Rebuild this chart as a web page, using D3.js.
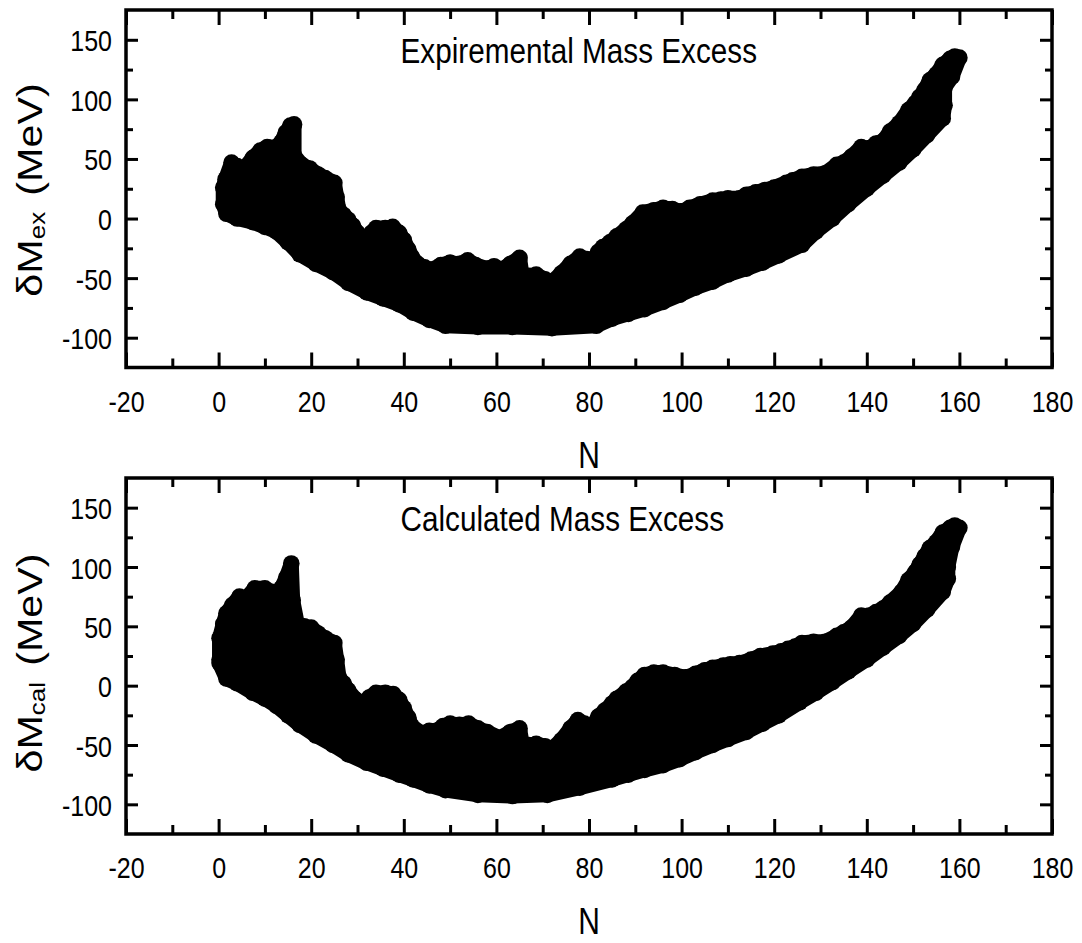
<!DOCTYPE html>
<html>
<head>
<meta charset="utf-8">
<script src="https://cdn.jsdelivr.net/npm/d3@7"></script>
<style>
  body { margin: 0; background: #fff; }
  text { font-family: "Liberation Sans", Arial, sans-serif; fill: #000; }
</style>
</head>
<body>
<div id="chart"></div>
<script>
// tick values
const xMajor = [-20, 0, 20, 40, 60, 80, 100, 120, 140, 160, 180];
const xMinor = [-10, 10, 30, 50, 70, 90, 110, 130, 150, 170];
const yMajor = [-100, -50, 0, 50, 100, 150];
const yMinor = [-75, -25, 25, 75, 125];

// experimental: upper / lower edge of the point cloud (N, MeV)
const expUpperN = [1, 1.5, 2.8, 4, 5.5, 7.4, 9, 10.5, 12.5, 13.5, 14.5, 15.5, 16.3, 16.3, 18, 19.7, 21.5, 23, 25, 25.5, 26, 27, 28, 29, 30, 31.6, 33, 34, 36, 37.6, 39, 40, 41, 41.7, 43, 44.5, 46, 48, 50, 52, 53.8, 55.5, 58, 59.5, 61, 63, 65, 65.7, 67, 68.6, 70.5, 72, 74, 76, 78, 79.5, 80.8, 82, 83, 84.5, 86, 88, 89.4, 91.6, 94, 96, 98, 100, 101.7, 104, 106.7, 108.5, 110, 112.5, 114, 116, 118, 120, 122.6, 124, 126, 128.5, 131, 133.5, 135, 136.7, 138.8, 140.5, 142, 143.5, 145, 147, 149, 150.5, 151.4, 152.5, 153.6, 155, 156.4, 158, 159, 160];
const expUpperV = [26, 33, 47, 44, 42, 51, 57, 60, 60, 64, 72, 78, 79, 53, 45, 42, 37, 34, 30, 18, 7, 3, -1, -6, -12, -19, -12, -8, -8, -7, -12, -18, -26, -32, -38, -41, -43, -39, -37, -38, -35, -39, -42, -40, -43, -38, -33, -52, -48, -47, -51, -53, -46, -38, -32, -34, -35, -28, -24, -20, -15, -9, -4, 5, 7, 9, 8, 6, 9, 12, 15, 16, 17, 17, 20, 22, 24, 26, 30, 32, 35, 37, 38, 45, 47, 52, 60, 59, 63, 65, 73, 80, 91, 97, 102, 108, 116, 121, 129, 134, 136, 135];
const expLowerN = [1, 1.7, 4, 7.4, 10, 12.5, 15, 17.5, 21, 24.7, 28, 32, 35.5, 39, 42, 45.5, 49, 56, 63.5, 72, 81.6, 85, 88.5, 92, 96, 99.6, 103, 106.7, 110, 114, 117.5, 121, 126, 129, 132.6, 136, 140, 143.5, 147, 150, 153, 156.4, 156.8, 156.8, 158.4];
const expLowerV = [12, 4, 0, -3, -7, -11, -20, -30, -38, -45, -54, -62, -67, -72, -79, -85, -90, -91, -91, -92, -90, -84, -80, -76, -70, -64, -58, -53, -47, -42, -37, -31, -22, -11, 0, 12, 25, 36, 47, 58, 70, 84, 95, 110, 119];

// calculated
const calUpperN = [0.2, 0.2, 1, 1.7, 3, 4.5, 6, 7.8, 10, 11.5, 12.5, 13.5, 14.6, 15.7, 16, 17, 18.5, 20, 21.5, 23, 25, 25.5, 26, 27, 28, 29.7, 31, 32.5, 34, 36, 37.7, 39, 40, 41, 41.7, 43.8, 45.5, 47, 48.5, 50, 52, 54, 56, 58, 60.7, 63, 65, 65.7, 67, 68.6, 70.5, 72, 74, 76, 77.6, 79, 80.8, 82, 83.4, 85, 86, 88, 89.4, 90.5, 92, 94, 96, 98.5, 101, 103, 105, 106.7, 109, 110.5, 112.5, 115, 117, 119.7, 121.5, 123, 124.5, 126, 128.5, 131, 133.5, 135, 136.7, 138.8, 140.5, 142, 143.5, 145, 147.5, 149, 150.5, 151.4, 152.5, 153.6, 155, 156.4, 158, 159, 160];
const calUpperV = [22, 40, 52, 61, 68, 75, 74, 82, 82, 79, 78, 82, 91, 103, 72, 52, 50, 49, 44, 40, 36, 22, 7, 2, -4, -12, -16, -10, -6, -6, -7, -12, -19, -27, -34, -40, -38, -38, -34, -32, -33, -32, -36, -39, -44, -39, -36, -52, -50, -49, -51, -53, -46, -36, -29, -32, -34, -26, -21, -15, -11, -5, -1, 4, 9, 11, 11, 9, 7, 10, 13, 15, 17, 18, 19, 22, 25, 27, 29, 31, 33, 36, 37, 37, 42, 45, 49, 59, 59, 62, 65, 70, 79, 89, 96, 102, 109, 116, 121, 129, 133, 135, 133];
const calLowerN = [0.2, 1.7, 4, 7.4, 10, 12.5, 15, 17.5, 21, 24.7, 28, 32, 35.5, 39, 42, 45.5, 49, 56, 63.5, 71, 78, 85, 88.5, 92, 96, 99.6, 103, 106.7, 110, 114, 117.5, 121, 125.5, 129, 132.6, 136, 140, 143.5, 147, 150, 153, 156.4, 157.5, 157.5, 158.4];
const calLowerV = [19, 6, 2, -6, -11, -17, -25, -33, -42, -50, -58, -65, -70, -75, -79, -84, -88, -92, -93, -92, -86, -79, -75, -71, -67, -62, -56, -50, -45, -39, -32, -25, -14, -6, 3, 12, 22, 32, 42, 52, 64, 79, 90, 100, 117];

const W = 1082, H = 943;
const left = 126, plotW = 926;

const svg = d3.select("#chart")
    .append("svg")
    .attr("width", W)
    .attr("height", H);

const x = d3.scaleLinear().domain([-20, 180]).range([left, left + plotW]);

function drawPanel(top, plotH, upN, upV, loN, loV, title, sub, labelMid) {
    const y = d3.scaleLinear().domain([-125, 175]).range([top + plotH, top]);
    const g = svg.append("g");

    // points cloud
    const upper = upN.map((n, i) => [n, upV[i]]);
    const lower = loN.map((n, i) => [n, loV[i]]);
    const outline = upper.concat(lower.slice().reverse());

    const line = d3.line()
        .x(d => x(d[0]))
        .y(d => y(d[1]))
        .curve(d3.curveLinearClosed);

    g.append("path")
        .attr("d", line(outline))
        .attr("fill", "#000")
        .attr("stroke", "#000")
        .attr("stroke-width", 15)
        .attr("stroke-linejoin", "round");

    g.selectAll("circle.dot")
        .data(upper.concat(lower))
        .enter()
        .append("circle")
        .attr("class", "dot")
        .attr("cx", d => x(d[0]))
        .attr("cy", d => y(d[1]))
        .attr("r", 8.3)
        .attr("fill", "#000");

    const bottom = top + plotH;
    const right = left + plotW;

    // axes
    const styleAxis = a => a.attr("font-size", 25)
        .attr("font-family", "Liberation Sans, Arial, sans-serif")
        .call(s => s.select(".domain").remove())
        .call(s => s.selectAll(".tick line").attr("stroke", "#000").attr("stroke-width", 3));

    g.append("g")
        .attr("transform", `translate(0,${bottom})`)
        .call(d3.axisBottom(x).tickValues(xMajor).tickSize(-15).tickFormat(d => String(d)))
        .call(styleAxis)
        .call(s => s.selectAll(".tick text")
            .attr("y", null).attr("dy", null)
            .attr("transform", "translate(0,44) scale(1,1.2)"));

    g.append("g")
        .attr("transform", `translate(0,${bottom})`)
        .call(d3.axisBottom(x).tickValues(xMinor).tickSize(-9).tickFormat(""))
        .call(styleAxis);

    g.append("g")
        .attr("transform", `translate(0,${top})`)
        .call(d3.axisTop(x).tickValues(xMajor).tickSize(-15).tickFormat(""))
        .call(styleAxis);

    g.append("g")
        .attr("transform", `translate(0,${top})`)
        .call(d3.axisTop(x).tickValues(xMinor).tickSize(-9).tickFormat(""))
        .call(styleAxis);

    g.append("g")
        .attr("transform", `translate(${left},0)`)
        .call(d3.axisLeft(y).tickValues(yMajor).tickSize(-12).tickFormat(d => String(d)))
        .call(styleAxis)
        .call(s => s.selectAll(".tick text")
            .attr("x", null).attr("dy", null)
            .attr("text-anchor", "end")
            .attr("transform", "translate(-14,11) scale(1,1.2)"));

    g.append("g")
        .attr("transform", `translate(${left},0)`)
        .call(d3.axisLeft(y).tickValues(yMinor).tickSize(-7).tickFormat(""))
        .call(styleAxis);

    g.append("g")
        .attr("transform", `translate(${right},0)`)
        .call(d3.axisRight(y).tickValues(yMajor).tickSize(-12).tickFormat(""))
        .call(styleAxis);

    g.append("g")
        .attr("transform", `translate(${right},0)`)
        .call(d3.axisRight(y).tickValues(yMinor).tickSize(-7).tickFormat(""))
        .call(styleAxis);

    // frame
    g.append("rect")
        .attr("x", left).attr("y", top)
        .attr("width", plotW).attr("height", plotH)
        .attr("fill", "none")
        .attr("stroke", "#000")
        .attr("stroke-width", 3.5);

    // title in the box
    g.append("text")
        .attr("transform", `translate(${x(39.3)},${top + 53}) scale(1,1.2)`)
        .attr("font-size", 29.7)
        .text(title);

    // x label
    g.append("text")
        .attr("transform", `translate(${left + plotW / 2},${bottom + 100}) scale(1,1.2)`)
        .attr("text-anchor", "middle")
        .attr("font-size", 30)
        .text("N");

    // y label
    const yl = g.append("text")
        .attr("transform", `translate(42,${labelMid}) rotate(-90) scale(1.18,1)`)
        .attr("text-anchor", "middle")
        .attr("font-size", 35);
    yl.append("tspan").text("\u03B4M");
    yl.append("tspan").attr("font-size", 22).attr("dy", 3).text(sub);
    yl.append("tspan").attr("dy", -3).attr("dx", 4).text(" (MeV)");
}

drawPanel(10, 357.5, expUpperN, expUpperV, expLowerN, expLowerV, "Expiremental Mass Excess", "ex", 190);
drawPanel(478, 356, calUpperN, calUpperV, calLowerN, calLowerV, "Calculated Mass Excess", "cal", 663);
</script>
</body>
</html>
